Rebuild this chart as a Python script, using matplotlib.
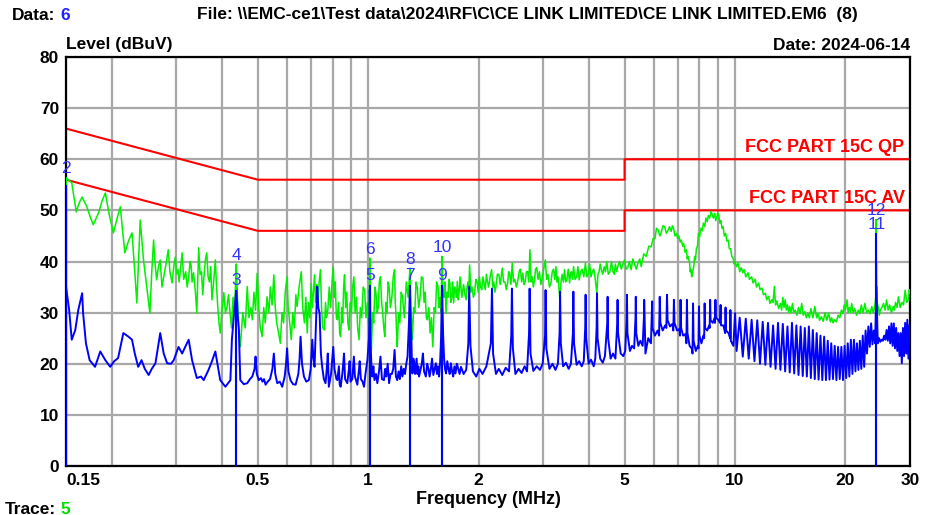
import matplotlib.pyplot as plt

plt.rcParams['font.family'] = ['Liberation Sans Narrow', 'Liberation Sans', 'DejaVu Sans']

# --- QP/peak scan (green) as (MHz, dBuV) ---
green_150k = [(0.150, 56.4), (0.1555, 55.4), (0.160, 49.7), (0.163, 51.5), (0.166, 52.6), (0.171, 50.7),
              (0.175, 48.5), (0.178, 47.2), (0.184, 49.5), (0.188, 51.8), (0.192, 53.4), (0.197, 49.0),
              (0.202, 45.6), (0.207, 48.6), (0.211, 50.7), (0.214, 46.0), (0.217, 41.7), (0.222, 44.0),
              (0.227, 45.6), (0.231, 38.0), (0.234, 31.9), (0.239, 48.1), (0.244, 40.3), (0.249, 35.0),
              (0.254, 29.9), (0.257, 38.0), (0.260, 44.2), (0.262, 40.0), (0.265, 36.4), (0.268, 39.0),
              (0.271, 40.3), (0.274, 35.0), (0.277, 37.0), (0.281, 39.5), (0.285, 42.3), (0.288, 38.0),
              (0.292, 35.8), (0.295, 39.0), (0.298, 40.9), (0.300, 37.5), (0.303, 38.5), (0.305, 36.0),
              (0.307, 37.8), (0.311, 41.7), (0.314, 36.5), (0.318, 38.0), (0.321, 35.0), (0.324, 37.0),
              (0.327, 40.0), (0.329, 39.2), (0.331, 36.0), (0.334, 37.8), (0.338, 34.0), (0.341, 29.9),
              (0.345, 42.7), (0.348, 37.5), (0.351, 38.0), (0.354, 33.5), (0.356, 36.4), (0.360, 40.5),
              (0.363, 41.7), (0.366, 37.0), (0.369, 36.0), (0.372, 39.0), (0.375, 32.5), (0.379, 36.0),
              (0.383, 40.3), (0.386, 35.0), (0.389, 31.0), (0.392, 28.0), (0.395, 26.0), (0.399, 30.0),
              (0.404, 33.9), (0.408, 30.0), (0.412, 31.1), (0.416, 33.5), (0.421, 29.2), (0.424, 27.0),
              (0.428, 33.0), (0.432, 30.0), (0.437, 39.5), (0.440, 33.0), (0.442, 30.0), (0.445, 26.0)]
green_500k = [(0.448, 23.3), (0.455, 30.0), (0.462, 27.0), (0.468, 35.1), (0.473, 29.0), (0.479, 31.0),
              (0.483, 28.6), (0.488, 34.0), (0.493, 30.5), (0.498, 37.7), (0.503, 31.0), (0.508, 27.0),
              (0.514, 25.3), (0.519, 31.0), (0.524, 28.0), (0.530, 33.1), (0.536, 30.0), (0.541, 35.0),
              (0.547, 31.5), (0.553, 37.4), (0.558, 31.0), (0.563, 28.0), (0.570, 26.0), (0.576, 24.0),
              (0.582, 30.0), (0.588, 28.0), (0.594, 34.0), (0.601, 37.0), (0.605, 31.0), (0.611, 28.0),
              (0.617, 24.7), (0.623, 30.0), (0.629, 27.0), (0.635, 33.5), (0.640, 31.2), (0.648, 35.0),
              (0.657, 38.0), (0.663, 31.0), (0.670, 28.0), (0.676, 33.0), (0.682, 26.0), (0.687, 32.0),
              (0.693, 29.0), (0.699, 35.7), (0.704, 31.0), (0.709, 34.0), (0.714, 37.4), (0.719, 32.0),
              (0.724, 35.5), (0.729, 31.2), (0.735, 36.0), (0.741, 38.4), (0.746, 31.0), (0.752, 27.0),
              (0.760, 26.6), (0.765, 32.0), (0.770, 29.0), (0.776, 30.5), (0.783, 35.0), (0.790, 31.0),
              (0.797, 36.0), (0.803, 39.0), (0.808, 33.0), (0.813, 36.0), (0.819, 29.0), (0.824, 28.6),
              (0.830, 32.0), (0.836, 26.0), (0.841, 25.3), (0.847, 31.0), (0.852, 28.0), (0.857, 35.0),
              (0.862, 37.4), (0.868, 31.0), (0.874, 34.0), (0.880, 28.0), (0.886, 26.6), (0.893, 32.0),
              (0.900, 30.0), (0.907, 35.0), (0.914, 37.0), (0.921, 30.0), (0.929, 33.0), (0.936, 27.0),
              (0.944, 24.7), (0.952, 31.0), (0.960, 29.0), (0.969, 35.0), (0.978, 34.4), (0.986, 29.0),
              (0.995, 32.0), (1.003, 27.0), (1.01, 40.7), (1.015, 30.0), (1.02, 22.7), (1.028, 30.0),
              (1.035, 28.0), (1.043, 35.0), (1.05, 33.8), (1.058, 30.0), (1.065, 31.0), (1.072, 36.0),
              (1.08, 37.0), (1.088, 32.0), (1.095, 30.0), (1.103, 27.0), (1.11, 25.3), (1.118, 32.0),
              (1.125, 30.0), (1.133, 36.0), (1.14, 35.1), (1.15, 31.0), (1.16, 33.0), (1.17, 37.0),
              (1.18, 38.4), (1.185, 32.0), (1.19, 30.0), (1.195, 26.0), (1.20, 23.3), (1.21, 30.0),
              (1.22, 28.0), (1.23, 34.0), (1.24, 33.1), (1.255, 29.0), (1.27, 36.0), (1.285, 33.0),
              (1.30, 38.7), (1.305, 31.0), (1.31, 30.0), (1.32, 24.7), (1.33, 31.0), (1.34, 30.0),
              (1.35, 36.0), (1.36, 35.1), (1.373, 31.0), (1.385, 33.0), (1.397, 37.0), (1.41, 36.8),
              (1.42, 32.0), (1.43, 34.0), (1.44, 29.0), (1.45, 28.6), (1.463, 31.0), (1.475, 26.0),
              (1.487, 29.0), (1.50, 23.3), (1.513, 31.0), (1.525, 30.0), (1.537, 36.0), (1.55, 35.1),
              (1.56, 31.0), (1.57, 33.0), (1.58, 30.0), (1.59, 41.0), (1.60, 34.0), (1.61, 33.0),
              (1.62, 36.0), (1.63, 29.9), (1.64, 34.0), (1.65, 33.0), (1.66, 36.5), (1.67, 35.8),
              (1.68, 32.0), (1.69, 33.0), (1.70, 36.0), (1.71, 31.9), (1.72, 35.0), (1.73, 34.5),
              (1.74, 33.0), (1.75, 36.1), (1.76, 32.5), (1.77, 34.0), (1.78, 37.0), (1.79, 35.1)]
green_2m = [(1.80, 33.0), (1.82, 35.5), (1.835, 33.5), (1.85, 32.5), (1.86, 35.0), (1.87, 36.0), (1.88, 34.0),
            (1.89, 39.3), (1.905, 34.0), (1.92, 35.0), (1.935, 33.0), (1.95, 33.8), (1.965, 36.5), (1.98, 36.0),
            (1.995, 34.0), (2.01, 37.0), (2.025, 35.0), (2.04, 34.5), (2.055, 37.0), (2.07, 35.8), (2.085, 34.5),
            (2.10, 37.5), (2.115, 36.0), (2.13, 35.0), (2.15, 37.0), (2.17, 38.4), (2.185, 35.0), (2.20, 36.0),
            (2.215, 34.0), (2.23, 35.1), (2.25, 37.5), (2.27, 37.5), (2.29, 35.5), (2.32, 38.7), (2.34, 36.0),
            (2.36, 36.0), (2.38, 34.5), (2.40, 35.8), (2.415, 38.0), (2.43, 37.8), (2.45, 35.5), (2.47, 39.7),
            (2.49, 36.0), (2.51, 36.5), (2.535, 35.0), (2.56, 36.4), (2.58, 38.0), (2.60, 38.5), (2.62, 36.0),
            (2.64, 37.7), (2.66, 35.5), (2.68, 36.0), (2.70, 38.0), (2.72, 38.0), (2.74, 36.0), (2.76, 42.3),
            (2.78, 36.0), (2.80, 37.0), (2.82, 35.0), (2.84, 36.4), (2.86, 38.5), (2.88, 38.8), (2.905, 36.5),
            (2.93, 38.0), (2.955, 35.5), (2.98, 36.5), (3.01, 38.5), (3.04, 40.3), (3.065, 36.5), (3.09, 37.5),
            (3.12, 35.0), (3.15, 35.8), (3.175, 38.0), (3.20, 38.5), (3.225, 36.5), (3.25, 39.0), (3.27, 36.0),
            (3.29, 37.0), (3.31, 35.0), (3.33, 32.5), (3.355, 36.0), (3.38, 37.5), (3.405, 36.0), (3.43, 38.4),
            (3.455, 36.0), (3.48, 36.5), (3.51, 38.5), (3.54, 35.8), (3.56, 37.5), (3.58, 38.0), (3.605, 36.5),
            (3.63, 39.0), (3.665, 36.5), (3.70, 37.0), (3.73, 39.0), (3.76, 36.4), (3.795, 38.0), (3.83, 38.5),
            (3.87, 37.0), (3.91, 39.7), (3.945, 37.0), (3.98, 37.5), (4.015, 39.5), (4.05, 37.0), (4.085, 38.0),
            (4.12, 38.5), (4.16, 36.5), (4.20, 33.8), (4.23, 37.5), (4.26, 38.0), (4.29, 39.5), (4.32, 38.4),
            (4.36, 37.5), (4.40, 39.0), (4.435, 38.0), (4.47, 40.0), (4.515, 37.5), (4.56, 38.0), (4.605, 40.0),
            (4.65, 38.0), (4.685, 37.5), (4.72, 39.5), (4.755, 38.0), (4.79, 39.0), (4.845, 40.0), (4.90, 38.5),
            (4.95, 39.5), (5.00, 40.3), (5.05, 38.5), (5.10, 38.8), (5.155, 40.0), (5.21, 38.4), (5.265, 40.5),
            (5.32, 39.5), (5.38, 38.5), (5.44, 39.7), (5.50, 40.5), (5.55, 39.0)]
green_6m = [(5.64, 41.5), (5.73, 41.0), (5.82, 43.0), (5.91, 42.9), (5.98, 44.5), (6.05, 44.5), (6.11, 46.5),
            (6.17, 46.2), (6.24, 45.0), (6.30, 45.8), (6.36, 47.0), (6.43, 46.8), (6.50, 45.5), (6.56, 46.0),
            (6.63, 46.8), (6.70, 45.9), (6.75, 47.0), (6.80, 46.5), (6.86, 45.0), (6.92, 45.5), (6.98, 44.5),
            (7.03, 45.0), (7.09, 43.8), (7.14, 44.2), (7.20, 43.0), (7.25, 43.5), (7.31, 41.8), (7.37, 42.3),
            (7.41, 40.5), (7.45, 41.0), (7.52, 39.7), (7.55, 38.0), (7.58, 38.5), (7.62, 37.0), (7.65, 37.7),
            (7.69, 38.5), (7.72, 39.0), (7.76, 41.0), (7.80, 40.3), (7.85, 42.5), (7.90, 43.0), (7.95, 45.5),
            (8.01, 44.9), (8.07, 46.5), (8.14, 46.0), (8.20, 47.5), (8.27, 46.8), (8.33, 48.5), (8.40, 47.8),
            (8.46, 49.0), (8.53, 48.5), (8.60, 49.8), (8.66, 49.2), (8.73, 48.5), (8.80, 49.4), (8.86, 48.0),
            (8.92, 48.7), (8.97, 49.5), (9.03, 49.1), (9.09, 47.5), (9.15, 48.0), (9.22, 46.5), (9.28, 46.8),
            (9.35, 45.0), (9.43, 45.5), (9.50, 44.0), (9.58, 44.2), (9.65, 42.5), (9.73, 42.5), (9.80, 41.0),
            (9.89, 40.6), (9.95, 39.5), (10.0, 40.0), (10.1, 39.0), (10.2, 39.7), (10.3, 38.0), (10.4, 38.8),
            (10.5, 37.8), (10.6, 38.4), (10.7, 37.0), (10.85, 37.8), (10.95, 36.5), (11.1, 37.0), (11.2, 35.8),
            (11.35, 36.5), (11.45, 35.0), (11.6, 35.8), (11.7, 34.5), (11.85, 34.8), (11.95, 33.5), (12.1, 33.8),
            (12.2, 32.5), (12.35, 33.2), (12.45, 31.8), (12.6, 32.5), (12.7, 32.0), (12.8, 35.1), (12.9, 31.5),
            (13.0, 32.3), (13.15, 30.8), (13.3, 31.8), (13.4, 30.5), (13.5, 33.0), (13.6, 31.0), (13.7, 32.5),
            (13.8, 30.5), (13.9, 31.5), (14.0, 30.0), (14.1, 31.2), (14.2, 30.0), (14.35, 31.8), (14.45, 30.0),
            (14.6, 30.5), (14.75, 29.5), (14.9, 31.0), (15.05, 29.8), (15.2, 31.8), (15.35, 29.5), (15.5, 30.2),
            (15.65, 29.0), (15.8, 29.9), (15.95, 29.0), (16.1, 30.8), (16.3, 29.0), (16.5, 31.2), (16.7, 29.0),
            (16.85, 29.8), (17.0, 28.5), (17.2, 29.2), (17.4, 28.3), (17.6, 30.0), (17.8, 28.5), (18.0, 29.9),
            (18.2, 28.2), (18.35, 29.0), (18.5, 28.0), (18.7, 28.6), (18.9, 28.2), (19.1, 29.5), (19.3, 29.0),
            (19.5, 30.5), (19.7, 29.8), (19.85, 31.5), (20.0, 30.5), (20.2, 32.5), (20.35, 30.0), (20.5, 31.0),
            (20.65, 30.0), (20.8, 31.8), (21.0, 30.0), (21.2, 30.8), (21.45, 29.5), (21.7, 30.5), (21.9, 29.8),
            (22.1, 31.5), (22.35, 30.0), (22.6, 31.8), (22.85, 30.0), (23.1, 30.5), (23.35, 29.8), (23.6, 31.2),
            (23.8, 30.0), (24.0, 30.8), (24.2, 33.0), (24.3, 39.7), (24.4, 32.0), (24.6, 31.0), (24.75, 29.5),
            (24.9, 30.5), (25.15, 31.0), (25.4, 31.8), (25.65, 30.5), (25.9, 32.5), (26.15, 30.5), (26.4, 31.5),
            (26.7, 30.0), (27.0, 31.2), (27.2, 30.5), (27.4, 32.0), (27.65, 31.0), (27.9, 33.1), (28.2, 31.0),
            (28.5, 32.0), (28.8, 31.5), (29.1, 34.4), (29.4, 32.0), (29.7, 32.5), (29.85, 34.5), (30.0, 33.8)]

# --- AV scan (blue) ---
blue_150k = [(0.150, 35.1), (0.153, 30.5), (0.1555, 24.7), (0.159, 26.6), (0.162, 30.5), (0.166, 33.8),
             (0.167, 29.9), (0.170, 24.0), (0.174, 20.7), (0.180, 19.4), (0.186, 22.4), (0.192, 20.7),
             (0.198, 19.4), (0.203, 20.5), (0.208, 21.1), (0.215, 26.0), (0.222, 25.3), (0.227, 24.7),
             (0.231, 22.0), (0.236, 19.4), (0.241, 20.7), (0.246, 19.0), (0.252, 17.8), (0.257, 19.0),
             (0.263, 20.1), (0.271, 26.0), (0.277, 22.0), (0.283, 20.1), (0.290, 20.0), (0.295, 20.7),
             (0.304, 23.3), (0.311, 22.0), (0.318, 23.5), (0.324, 24.7), (0.331, 20.7), (0.341, 17.2),
             (0.350, 17.5), (0.356, 16.8), (0.367, 18.8), (0.375, 20.5), (0.383, 22.4), (0.395, 16.8),
             (0.408, 15.5), (0.421, 16.8), (0.425, 24.7), (0.431, 30.0), (0.437, 34.5), (0.441, 29.0),
             (0.444, 26.6)]
blue_500k = [(0.448, 16.8), (0.458, 16.0), (0.468, 16.2), (0.476, 17.0), (0.483, 17.5), (0.490, 19.0),
             (0.493, 21.4), (0.497, 18.0), (0.503, 16.8), (0.510, 17.2), (0.515, 16.5), (0.520, 17.0),
             (0.525, 15.9), (0.532, 16.5), (0.540, 17.0), (0.548, 19.0), (0.553, 22.0), (0.558, 18.0),
             (0.565, 16.2), (0.574, 16.5), (0.583, 15.5), (0.592, 17.5), (0.597, 20.0), (0.601, 23.0),
             (0.606, 18.5), (0.614, 16.8), (0.624, 16.0), (0.634, 15.9), (0.645, 18.0), (0.650, 21.0),
             (0.654, 25.3), (0.660, 20.0), (0.668, 17.5), (0.678, 16.5), (0.689, 16.8), (0.697, 19.0),
             (0.704, 24.7), (0.709, 21.0), (0.714, 19.4), (0.720, 27.0), (0.726, 35.1), (0.731, 31.0),
             (0.737, 29.9), (0.743, 22.0), (0.749, 19.4), (0.757, 17.0), (0.765, 16.2), (0.771, 19.0),
             (0.776, 22.0), (0.781, 15.5), (0.792, 18.0), (0.798, 21.0), (0.803, 23.3), (0.809, 19.0),
             (0.814, 18.0), (0.819, 17.0), (0.824, 16.8), (0.832, 19.5), (0.836, 16.0), (0.841, 15.5),
             (0.850, 18.0), (0.855, 20.0), (0.859, 22.0), (0.865, 17.0), (0.877, 16.2), (0.886, 19.0),
             (0.890, 20.5), (0.895, 16.5), (0.905, 17.0), (0.914, 21.4), (0.920, 17.5), (0.934, 15.9),
             (0.944, 19.0), (0.948, 20.5), (0.955, 17.0), (0.965, 16.5), (0.974, 15.5), (0.983, 18.0),
             (0.995, 20.7), (1.005, 25.0), (1.01, 34.5), (1.015, 24.0), (1.020, 20.0), (1.026, 17.5),
             (1.033, 19.5), (1.04, 16.8), (1.05, 18.0), (1.059, 16.2), (1.07, 18.5), (1.08, 21.4),
             (1.09, 17.0), (1.104, 16.8), (1.112, 19.0), (1.12, 17.5), (1.13, 20.0), (1.14, 16.2),
             (1.15, 18.0), (1.16, 18.0), (1.17, 19.0), (1.18, 22.7), (1.19, 17.5), (1.20, 16.8),
             (1.21, 18.5), (1.22, 17.0), (1.23, 19.5), (1.24, 17.5), (1.25, 19.0), (1.26, 18.0),
             (1.27, 20.0), (1.28, 21.4), (1.29, 27.0), (1.30, 35.0), (1.305, 29.0), (1.31, 26.0),
             (1.315, 21.0), (1.32, 18.1), (1.328, 21.0), (1.335, 20.0), (1.342, 18.0), (1.348, 19.4),
             (1.355, 21.0), (1.362, 18.0), (1.37, 19.5), (1.376, 17.5), (1.39, 19.0), (1.40, 20.0),
             (1.41, 22.0), (1.42, 18.5), (1.436, 17.5), (1.448, 20.0), (1.46, 19.0), (1.47, 17.5),
             (1.481, 18.8), (1.493, 21.0), (1.505, 17.8), (1.517, 19.0), (1.529, 20.1), (1.54, 18.0),
             (1.55, 19.5), (1.56, 17.5), (1.57, 20.0), (1.58, 25.0), (1.59, 35.0), (1.60, 26.0),
             (1.61, 21.0), (1.62, 19.0), (1.63, 18.1), (1.643, 20.5), (1.655, 19.0), (1.668, 18.0),
             (1.68, 20.1), (1.693, 18.5), (1.705, 17.5), (1.718, 19.5), (1.73, 18.1), (1.745, 20.0),
             (1.76, 19.0), (1.775, 18.0), (1.79, 19.4)]
blue_2m = [(1.82, 18.0), (1.85, 18.8), (1.875, 24.0), (1.885, 35.1), (1.90, 23.5), (1.93, 18.5), (1.97, 17.5),
           (2.01, 19.0), (2.05, 18.0), (2.10, 19.5), (2.16, 24.0), (2.175, 34.7), (2.19, 22.0), (2.23, 18.0),
           (2.27, 19.0), (2.32, 17.8), (2.37, 19.2), (2.42, 18.5), (2.455, 25.5), (2.465, 34.7), (2.48, 23.0),
           (2.52, 18.0), (2.57, 19.0), (2.62, 18.2), (2.67, 19.5), (2.71, 18.5), (2.745, 26.0), (2.755, 34.7),
           (2.77, 22.0), (2.82, 18.6), (2.88, 19.5), (2.94, 18.8), (2.99, 20.0), (3.035, 25.5), (3.045, 34.4),
           (3.06, 23.0), (3.12, 19.0), (3.18, 20.0), (3.24, 18.8), (3.29, 20.0), (3.325, 26.0), (3.335, 34.1),
           (3.35, 24.0), (3.40, 19.5), (3.46, 20.2), (3.52, 19.0), (3.57, 20.0), (3.615, 26.0), (3.625, 34.1),
           (3.64, 24.0), (3.70, 19.8), (3.76, 20.5), (3.82, 19.5), (3.87, 20.5), (3.905, 27.0), (3.915, 33.5),
           (3.93, 25.0), (3.99, 20.0), (4.05, 20.8), (4.12, 19.5), (4.16, 21.0), (4.195, 27.0), (4.205, 33.8),
           (4.22, 25.0), (4.29, 21.0), (4.36, 20.2), (4.42, 21.5), (4.485, 28.0), (4.495, 33.1), (4.51, 25.0),
           (4.58, 21.0), (4.65, 22.0), (4.72, 21.0), (4.775, 28.0), (4.785, 32.5), (4.80, 26.0), (4.88, 22.0),
           (4.96, 21.5), (5.02, 22.5), (5.065, 28.5), (5.075, 33.5), (5.09, 26.0), (5.17, 22.5), (5.24, 23.5),
           (5.31, 23.0), (5.355, 29.0), (5.365, 33.1), (5.38, 26.0), (5.45, 23.5), (5.52, 24.5), (5.60, 23.5),
           (5.645, 29.0), (5.655, 32.5)]
blue_6m = [(5.70, 22.0), (5.80, 25.0), (5.90, 24.0), (5.945, 32.2), (5.96, 27.0), (6.05, 25.5), (6.15, 26.5),
           (6.21, 25.5), (6.235, 33.1), (6.26, 28.0), (6.35, 26.5), (6.45, 27.5), (6.50, 27.0), (6.525, 33.5),
           (6.55, 28.5), (6.65, 27.3), (6.75, 27.8), (6.79, 26.5), (6.815, 32.5), (6.84, 28.0), (6.95, 26.5),
           (7.05, 26.8), (7.08, 25.5), (7.105, 32.5), (7.13, 27.0), (7.22, 25.5), (7.33, 25.8), (7.37, 24.0),
           (7.395, 32.5), (7.42, 26.0), (7.52, 23.5), (7.62, 23.0), (7.66, 22.0), (7.685, 31.8), (7.71, 24.5),
           (7.82, 22.5), (7.92, 23.5), (7.95, 23.0), (7.975, 31.2), (8.00, 25.5), (8.10, 24.0), (8.20, 25.5),
           (8.24, 25.0), (8.265, 31.8), (8.29, 27.0), (8.40, 26.5), (8.50, 27.5), (8.53, 27.0), (8.555, 32.5),
           (8.58, 28.5), (8.70, 28.0), (8.80, 29.0), (8.82, 28.0), (8.845, 32.5), (8.87, 29.0), (9.00, 28.6),
           (9.10, 28.0), (9.135, 31.5), (9.16, 27.5), (9.30, 27.5), (9.40, 26.0), (9.425, 31.0), (9.45, 26.5),
           (9.60, 26.0), (9.70, 25.0), (9.715, 30.5), (9.74, 24.5), (9.90, 23.5), (10.005, 29.9)]
blue_10m = [(10.1, 22.5), (10.3, 29.0), (10.5, 21.4), (10.7, 28.8), (10.9, 21.0), (11.1, 28.6), (11.3, 20.5),
            (11.5, 28.5), (11.7, 20.0), (11.9, 28.2), (12.1, 19.8), (12.3, 28.0), (12.5, 19.4), (12.7, 27.5),
            (12.9, 19.0), (13.1, 28.0), (13.3, 18.8), (13.5, 27.8), (13.7, 18.5), (13.9, 27.3), (14.1, 18.3),
            (14.3, 28.0), (14.5, 18.1), (14.7, 27.5), (14.9, 17.8), (15.1, 27.3), (15.3, 17.6), (15.5, 27.0),
            (15.7, 17.5), (15.9, 27.3), (16.1, 17.2), (16.3, 26.6), (16.5, 17.0), (16.7, 26.0), (16.9, 16.9),
            (17.1, 25.5), (17.3, 16.8), (17.5, 25.3), (17.7, 16.8), (17.9, 24.5), (18.1, 16.9), (18.3, 24.0),
            (18.5, 17.0), (18.7, 23.5), (18.9, 16.8), (19.1, 23.3), (19.3, 17.0), (19.5, 23.3), (19.7, 16.8),
            (19.9, 23.5), (20.1, 17.2), (20.3, 24.0), (20.5, 17.5), (20.7, 24.7), (20.9, 18.0), (21.1, 24.7),
            (21.3, 18.5), (21.5, 24.0), (21.7, 18.8), (21.9, 24.5), (22.1, 19.0), (22.3, 25.5), (22.5, 19.4),
            (22.7, 26.5), (22.9, 22.0), (23.1, 27.3), (23.3, 23.3), (23.5, 27.9), (23.7, 23.8), (23.9, 26.5),
            (24.1, 24.0), (24.3, 35.1), (24.5, 24.0), (24.7, 25.0), (24.9, 24.3), (25.1, 24.7), (25.3, 24.5),
            (25.5, 25.5), (25.7, 24.7), (25.9, 26.6), (26.1, 24.5), (26.3, 27.3), (26.5, 24.0), (26.7, 27.9),
            (26.9, 23.5), (27.1, 27.9), (27.3, 23.0), (27.5, 27.0), (27.7, 22.5), (27.9, 26.0), (28.1, 21.5),
            (28.3, 26.0), (28.5, 20.1), (28.7, 27.0), (28.9, 21.5), (29.1, 28.0), (29.3, 22.0), (29.5, 28.6),
            (29.7, 21.0), (29.9, 27.5)]

# --- FCC part 15C limits ---
qp_f = [0.15, 0.5, 5, 5, 30]
qp_v = [66, 56, 56, 60, 60]
av_f = [0.15, 0.5, 5, 5, 30]
av_v = [56, 46, 46, 50, 50]

# --- markers (odd = AV / blue, even = QP / green) ---
mk_odd_no = ['3', '5', '7', '9', '11']
mk_odd_f = [0.437, 1.01, 1.30, 1.59, 24.3]
mk_odd_v = [34.5, 35.5, 35.5, 35.5, 45.5]
mk_even_no = ['2', '4', '6', '8', '10', '12']
mk_even_f = [0.15, 0.437, 1.01, 1.30, 1.59, 24.3]
mk_even_v = [56.5, 39.5, 40.7, 38.7, 41.0, 48.3]
mk1_f, mk1_v = 0.15, 55.0

x_major = [0.15, 0.5, 1, 2, 5, 10, 20, 30]
x_major_lbl = ['0.15', '0.5', '1', '2', '5', '10', '20', '30']
x_minor = [0.2, 0.3, 0.4, 0.6, 0.7, 0.8, 0.9, 3, 4, 6, 7, 8, 9]

green = green_150k + green_500k + green_2m + green_6m
blue = blue_150k + blue_500k + blue_2m + blue_6m + blue_10m
green_f, green_v = zip(*green)
blue_f, blue_v = zip(*blue)

W, H = 928, 515
fig = plt.figure(figsize=(W / 100, H / 100), dpi=100)
ax = fig.add_axes([66 / W, 49 / H, 844 / W, 409 / H])
ax.set_xscale('log')
ax.set_xlim(0.15, 30)
ax.set_ylim(0, 80)

ax.set_xticks(x_major)
ax.set_xticklabels(x_major_lbl)
ax.set_xticks(x_minor, minor=True)
ax.xaxis.set_minor_formatter(plt.NullFormatter())
ax.set_yticks(range(0, 81, 10))
ax.tick_params(which='both', length=0, labelsize=12.5, pad=5)
for lbl in ax.get_xticklabels() + ax.get_yticklabels():
    lbl.set_fontweight('bold')
ax.get_xticklabels()[0].set_horizontalalignment('left')
ax.grid(which='both', color='#a8a8a8', lw=1.6, zorder=0)
for s in ax.spines.values():
    s.set_linewidth(1.6)

ax.plot(qp_f, qp_v, color='#ff0000', lw=1.5, zorder=2)
ax.plot(av_f, av_v, color='#ff0000', lw=1.5, zorder=2)
ax.text(29.0, 60.7, 'FCC PART 15C QP', color='#ff0000', ha='right', va='bottom',
        fontsize=13, fontweight='bold')
ax.text(29.0, 50.7, 'FCC PART 15C AV', color='#ff0000', ha='right', va='bottom',
        fontsize=13, fontweight='bold')

ax.plot(green_f, green_v, color='#00f000', lw=1.1, zorder=3)
ax.plot(blue_f, blue_v, color='#0000ff', lw=1.4, zorder=4)

# marker lines
ax.vlines(mk_even_f, 0, mk_even_v, color='#00f000', lw=1.5, zorder=5)
ax.vlines(mk_odd_f + [mk1_f], 0, mk_odd_v + [mk1_v], color='#0000ff', lw=1.5, zorder=6)
for no, f, v in zip(mk_odd_no + mk_even_no, mk_odd_f + mk_even_f, mk_odd_v + mk_even_v):
    ax.annotate(no, (f, v), xytext=(0, 1), textcoords='offset points', ha='center', va='bottom',
                color='#3333ff', fontsize=12.5, family=['Liberation Sans', 'DejaVu Sans'],
                annotation_clip=False, zorder=7)

# header / footer text
ax.set_xlabel('Frequency (MHz)', fontsize=13, fontweight='bold', labelpad=2)
fig.text(12 / W, 1 - 15 / H, 'Data:', fontsize=12.5, fontweight='bold', va='center')
fig.text(60 / W, 1 - 15 / H, '6', fontsize=12.5, fontweight='bold', va='center', color='#2020ff')
fig.text(197 / W, 1 - 15 / H,
         'File: \\\\EMC-ce1\\Test data\\2024\\RF\\C\\CE LINK LIMITED\\CE LINK LIMITED.EM6  (8)',
         fontsize=12.5, fontweight='bold', va='center')
fig.text(66 / W, 1 - 45 / H, 'Level (dBuV)', fontsize=12.5, fontweight='bold', va='center')
fig.text(910 / W, 1 - 45 / H, 'Date: 2024-06-14', fontsize=12.5, fontweight='bold', va='center',
         ha='right')
fig.text(5 / W, 1 - 509 / H, 'Trace:', fontsize=12.5, fontweight='bold', va='center')
fig.text(60 / W, 1 - 509 / H, '5', fontsize=12.5, fontweight='bold', va='center', color='#00dd00')

fig.savefig('out.png', dpi=100)
